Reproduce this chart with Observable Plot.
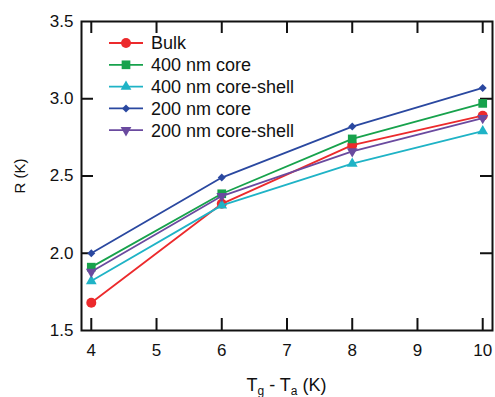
<!DOCTYPE html>
<html><head><meta charset="utf-8">
<script src="https://cdn.jsdelivr.net/npm/d3@7"></script>
<script src="https://cdn.jsdelivr.net/npm/@observablehq/plot@0.6"></script>
<style>
body{margin:0;background:#fff;}
#chart{position:relative;width:495px;height:397px;}
</style>
</head><body><div id="chart"></div>
<script>
// ---- data ----
const xValues = [4, 6, 8, 10];
const seriesNames = ["Bulk", "400 nm core", "400 nm core-shell", "200 nm core", "200 nm core-shell"];
const bulk = [1.68, 2.32, 2.70, 2.89];
const core400 = [1.91, 2.385, 2.74, 2.97];
const coreShell400 = [1.82, 2.31, 2.58, 2.79];
const core200 = [2.00, 2.49, 2.82, 3.07];
const coreShell200 = [1.88, 2.37, 2.66, 2.875];
const xTicks = [4, 5, 6, 7, 8, 9, 10];
const yTicks = [1.5, 2.0, 2.5, 3.0, 3.5];
const yInnerTicks = [2.0, 2.5, 3.0];

// ---- styles ----
const colors = ["#ec2a2c", "#17a24c", "#1fb3c6", "#2a48a0", "#6a4a9f"];
const sqrt3 = Math.sqrt(3);
const triangleDown = {
  draw(context, size) {
    const y = -Math.sqrt(size / (sqrt3 * 3));
    context.moveTo(0, -y * 2);
    context.lineTo(-sqrt3 * y, y);
    context.lineTo(sqrt3 * y, y);
    context.closePath();
  }
};
const symbols = [d3.symbolCircle, d3.symbolSquare, d3.symbolTriangle, d3.symbolDiamond2, triangleDown];
const radii = [5, 4.9, 4, 3.6, 4];

const allValues = [bulk, core400, coreShell400, core200, coreShell200];
const data = [];
seriesNames.forEach((name, i) => {
  allValues[i].forEach((v, j) => data.push({series: name, idx: i, x: xValues[j], y: v}));
});

const W = 495, H = 397;
const mL = 81, mR = 3, mT = 21, mB = 67;
const plotW = W - mL - mR, plotH = H - mT - mB;
const font = "'Liberation Sans', Arial, sans-serif";

const seriesMarks = [];
seriesNames.forEach((name, i) => {
  const d = data.filter(r => r.idx === i);
  seriesMarks.push(Plot.line(d, {x: "x", y: "y", stroke: colors[i], strokeWidth: 1.8}));
  seriesMarks.push(Plot.dot(d, {x: "x", y: "y", fill: colors[i], stroke: "none", symbol: symbols[i], r: radii[i]}));
});

const chart = Plot.plot({
  width: W, height: H,
  marginLeft: mL, marginRight: mR, marginTop: mT, marginBottom: mB,
  style: {fontFamily: font, background: "#fff", color: "#111"},
  x: {domain: [3.85, 10.15], label: null},
  y: {domain: [1.5, 3.5], label: null},
  marks: [
    Plot.axisX(xTicks, {tickSize: 0, tickPadding: 13, fontSize: 17, label: null, tickFormat: d3.format("d")}),
    Plot.axisY(yTicks, {tickSize: 0, tickPadding: 8, fontSize: 17, label: null, tickFormat: d3.format(".1f")}),
    Plot.tickX(xTicks, {x: d => d, insetTop: plotH - 12, stroke: "#111", strokeWidth: 2}),
    Plot.tickX(xTicks, {x: d => d, insetBottom: plotH - 12, stroke: "#111", strokeWidth: 2}),
    Plot.tickY(yInnerTicks, {y: d => d, insetRight: plotW - 12, stroke: "#111", strokeWidth: 2}),
    Plot.tickY(yInnerTicks, {y: d => d, insetLeft: plotW - 12, stroke: "#111", strokeWidth: 2}),
    ...seriesMarks,
    Plot.frame({stroke: "#111", strokeWidth: 2})
  ]
});
document.getElementById("chart").appendChild(chart);

// ---- legend and titles ----
const svg = d3.select(chart);
const leg = svg.append("g").attr("font-family", font).attr("font-size", 18).attr("text-anchor", "start");
seriesNames.forEach((name, i) => {
  const y = 43 + i * 21.8;
  const g = leg.append("g").attr("transform", `translate(0,${y})`);
  g.append("line").attr("x1", 109).attr("x2", 143).attr("y1", 0).attr("y2", 0)
    .attr("stroke", colors[i]).attr("stroke-width", 1.8);
  g.append("path").attr("transform", "translate(126,0)")
    .attr("d", d3.symbol(symbols[i], Math.PI * radii[i] * radii[i])())
    .attr("fill", colors[i]);
  g.append("text").attr("x", 151).attr("y", 0).attr("dy", "0.35em")
    .attr("text-anchor", "start").attr("fill", "#111").text(name);
});

const xt = svg.append("text").attr("x", mL + plotW / 2).attr("y", 391)
  .attr("text-anchor", "middle").attr("font-family", font).attr("font-size", 18).attr("fill", "#111");
xt.append("tspan").text("T");
xt.append("tspan").attr("font-size", 12).attr("dy", 4).text("g");
xt.append("tspan").attr("dy", -4).text(" - T");
xt.append("tspan").attr("font-size", 12).attr("dy", 4).text("a");
xt.append("tspan").attr("dy", -4).text(" (K)");

svg.append("text")
  .attr("transform", "translate(25,176) rotate(-90)")
  .attr("text-anchor", "middle").attr("font-family", font).attr("font-size", 15).attr("fill", "#111")
  .text("R (K)");
</script>
</body></html>
